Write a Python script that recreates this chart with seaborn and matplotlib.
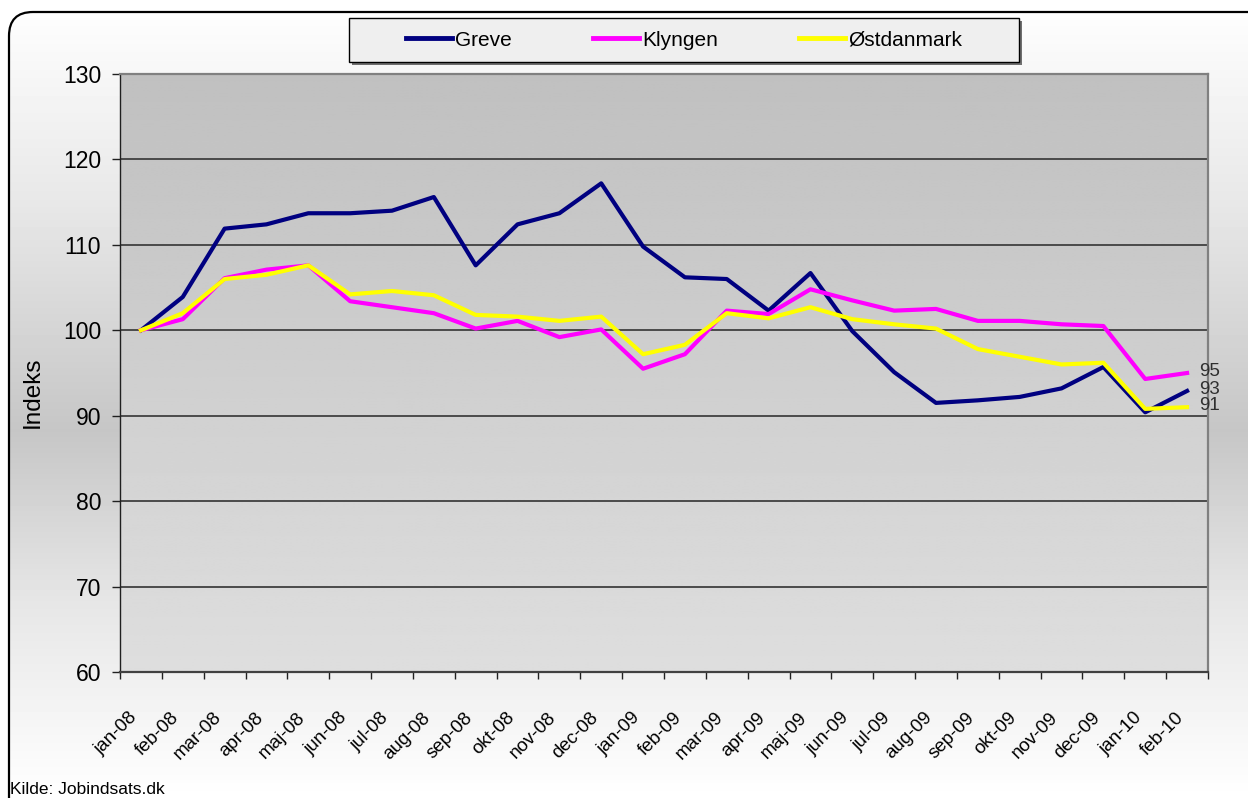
import numpy as np
import pandas as pd
import matplotlib
matplotlib.use('Agg')
import matplotlib.pyplot as plt
import matplotlib.transforms as mtransforms
from matplotlib.patches import FancyBboxPatch, Rectangle
import seaborn as sns

# data (index, jan-08 = 100)
months = ['jan-08', 'feb-08', 'mar-08', 'apr-08', 'maj-08', 'jun-08', 'jul-08',
          'aug-08', 'sep-08', 'okt-08', 'nov-08', 'dec-08', 'jan-09', 'feb-09',
          'mar-09', 'apr-09', 'maj-09', 'jun-09', 'jul-09', 'aug-09', 'sep-09',
          'okt-09', 'nov-09', 'dec-09', 'jan-10', 'feb-10']
greve = [100, 103.9, 111.9, 112.4, 113.7, 113.7, 114.0, 115.6, 107.6, 112.4,
         113.7, 117.2, 109.8, 106.2, 106.0, 102.3, 106.7, 99.9, 95.1, 91.5,
         91.8, 92.2, 93.2, 95.7, 90.4, 92.9]
klyngen = [100, 101.3, 106.1, 107.1, 107.6, 103.4, 102.7, 102.0, 100.2, 101.1,
           99.2, 100.1, 95.5, 97.2, 102.3, 101.9, 104.8, 103.5, 102.3, 102.5,
           101.1, 101.1, 100.7, 100.5, 94.3, 95.0]
ostdanmark = [100, 102.0, 106.0, 106.5, 107.6, 104.2, 104.6, 104.1, 101.8, 101.6,
              101.1, 101.6, 97.2, 98.3, 102.0, 101.4, 102.7, 101.3, 100.7, 100.2,
              97.8, 96.9, 96.0, 96.2, 90.8, 91.0]
series = ['Greve', 'Klyngen', 'Østdanmark']
colors = {'Greve': '#000080', 'Klyngen': '#ff00ff', 'Østdanmark': '#ffff00'}
end_labels = ['93', '95', '91']

df = pd.DataFrame({'måned': months * 3,
                   'indeks': greve + klyngen + ostdanmark,
                   'serie': np.repeat(series, len(months))})

plt.rcParams['font.family'] = ['Liberation Sans', 'DejaVu Sans']

W, H = 1248, 798
fig = plt.figure(figsize=(W / 100, H / 100), dpi=100)

# baggrund med afrundet ramme og lodret gradient
bg = fig.add_axes([0, 0, 1, 1], zorder=-10)
bg.set_axis_off()
rows = np.interp(np.arange(H), [0, 200, 430, 600, 798], [255, 232, 198, 230, 255]) / 255
grad = np.repeat(rows[:, None], 2, axis=1)
im = bg.imshow(grad, cmap='gray', vmin=0, vmax=1, aspect='auto', extent=[0, 1, 0, 1])
bg.set_xlim(0, 1)
bg.set_ylim(0, 1)
frame = FancyBboxPatch((9, -30), 1270, 816, boxstyle='round,pad=0,rounding_size=24',
                       transform=mtransforms.IdentityTransform(),
                       facecolor='none', edgecolor='black', linewidth=1.6)
im.set_clip_path(frame)
fig.add_artist(frame)

# plotområde
ax = fig.add_axes([120 / W, 1 - 672 / H, 1088 / W, 598 / H])
pgrad = np.linspace(192, 222, 200)[:, None] / 255
ax.imshow(np.repeat(pgrad, 2, axis=1), cmap='gray', vmin=0, vmax=1, aspect='auto',
          extent=[-0.5, 25.5, 60, 130], zorder=0)

sns.lineplot(data=df, x='måned', y='indeks', hue='serie', hue_order=series,
             palette=colors, linewidth=3.0, ax=ax, zorder=3, sort=False)
handles, labels = ax.get_legend_handles_labels()
ax.get_legend().remove()

ax.set_xlim(-0.5, 25.5)
ax.set_ylim(60, 130)
ax.set_yticks(range(60, 131, 10))
ax.set_xlabel('')
ax.set_ylabel('')
for yv in range(70, 131, 10):
    ax.axhline(yv, color='#404040', linewidth=1.3, zorder=1)

ax.spines['left'].set_color('#202020')
ax.spines['left'].set_linewidth(1.0)
ax.spines['bottom'].set_color('#404040')
ax.spines['bottom'].set_linewidth(1.6)
for s in ['top', 'right']:
    ax.spines[s].set_color('#808080')
    ax.spines[s].set_linewidth(1.6)

ax.tick_params(axis='y', length=5.5, width=1, color='#202020', pad=8, labelsize=16.5)
ax.set_xticks(range(len(months)))
ax.set_xticklabels(months, fontsize=13.5)
ax.set_xticks(np.arange(-0.5, 26, 1), minor=True)
ax.tick_params(axis='x', which='major', length=0, pad=31)
ax.tick_params(axis='x', which='minor', length=5, width=1, color='#202020')
shift = mtransforms.ScaledTranslation(-0.06, 0, fig.dpi_scale_trans)
for lab in ax.get_xticklabels():
    lab.set_rotation(45)
    lab.set_ha('right')
    lab.set_va('center')
    lab.set_rotation_mode('anchor')
    lab.set_transform(lab.get_transform() + shift)

# slutværdier
for vals, txt in zip([greve, klyngen, ostdanmark], end_labels):
    ax.annotate(txt, (len(months) - 1, vals[-1]), xytext=(9, 1), textcoords='offset points',
                va='center', ha='left', fontsize=13.5, color='#303030',
                annotation_clip=False)

fig.text(33 / W, 1 - 392 / H, 'Indeks', rotation=90, ha='center', va='center', fontsize=17.5)

# legende
shadow = Rectangle((352, H - 65), 670, 44, transform=mtransforms.IdentityTransform(),
                   facecolor='#707070', edgecolor='none', zorder=4)
box = Rectangle((349, H - 62), 670, 44, transform=mtransforms.IdentityTransform(),
                facecolor='#efefef', edgecolor='black', linewidth=1.0, zorder=5)
fig.add_artist(shadow)
fig.add_artist(box)
leg = fig.legend(handles, labels, loc='center left', bbox_to_anchor=(396 / W, 1 - 40 / H),
                 ncol=3, frameon=False, borderpad=0, handlelength=2.2, handletextpad=0.15,
                 columnspacing=3.9, prop={'size': 15})
leg.set_zorder(6)
for ln in leg.get_lines():
    ln.set_linewidth(3.5)

fig.text(10 / W, 1 - 790 / H, 'Kilde: Jobindsats.dk', ha='left', va='center', fontsize=12.5)

fig.savefig('out.png', dpi=100)
